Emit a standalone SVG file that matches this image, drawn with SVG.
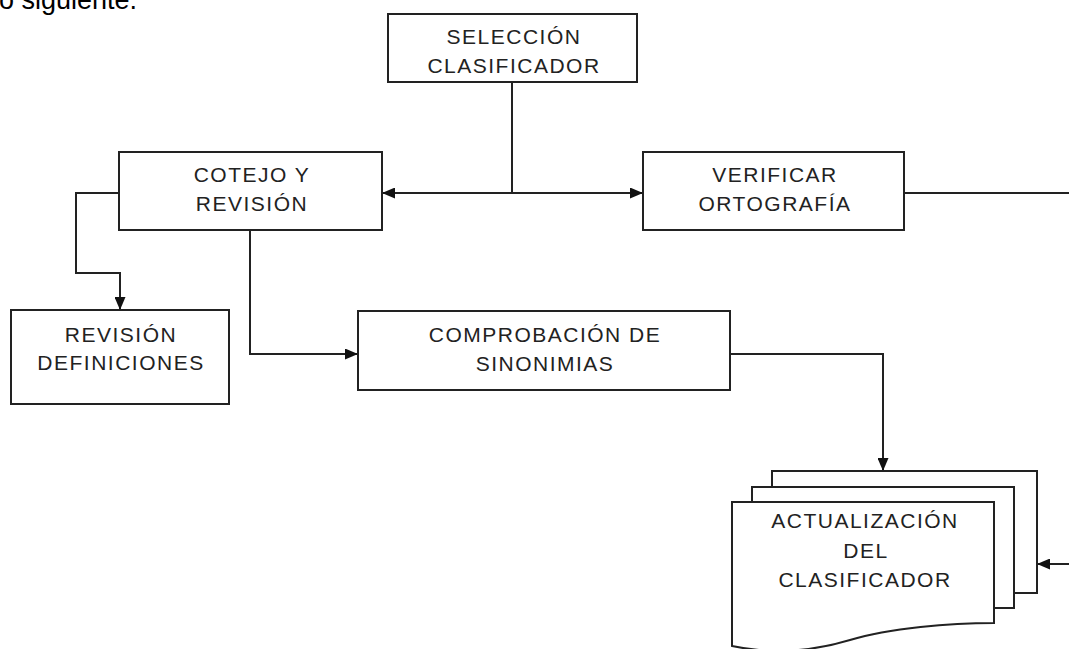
<svg xmlns="http://www.w3.org/2000/svg" width="1069" height="649" viewBox="0 0 1069 649">
<defs>
<style>
.box{fill:#fff;stroke:#222;stroke-width:2}
.ln{fill:none;stroke:#222;stroke-width:2}
.t{font-family:"Liberation Sans",Arial,sans-serif;font-size:21px;fill:#222;text-anchor:middle;letter-spacing:1.5px}
.intro{font-family:"Liberation Sans",Arial,sans-serif;font-size:27px;fill:#000}
</style>
<marker id="ah" viewBox="0 0 13 11" refX="13" refY="5.5" markerWidth="13" markerHeight="11" markerUnits="userSpaceOnUse" orient="auto">
<path d="M0,0 L13,5.5 L0,11 Z" fill="#111"/>
</marker>
</defs>
<rect width="1069" height="649" fill="#fff"/>
<text class="intro" x="-1" y="9">o siguiente.</text>
<g id="connectors">
<path class="ln" d="M512,82 V193"/>
<path class="ln" d="M512,193 H382" marker-end="url(#ah)"/>
<path class="ln" d="M512,193 H643" marker-end="url(#ah)"/>
<path class="ln" d="M119,193 H76 V273 H120 V310" marker-end="url(#ah)"/>
<path class="ln" d="M250,230 V354 H358" marker-end="url(#ah)"/>
<path class="ln" d="M730,354 H883 V471" marker-end="url(#ah)"/>
<path class="ln" d="M904,193 H1070"/>
<path class="ln" d="M1070,564 H1037" marker-end="url(#ah)"/>
</g>
<g id="seleccion">
<rect class="box" x="388" y="14" width="249" height="68"/>
<text class="t" x="514" y="44">SELECCIÓN</text>
<text class="t" x="514" y="73">CLASIFICADOR</text>
</g>
<g id="cotejo">
<rect class="box" x="119" y="152" width="263" height="78"/>
<text class="t" x="252" y="182">COTEJO Y</text>
<text class="t" x="252" y="211">REVISIÓN</text>
</g>
<g id="verificar">
<rect class="box" x="643" y="152" width="261" height="78"/>
<text class="t" x="775" y="182">VERIFICAR</text>
<text class="t" x="775" y="211">ORTOGRAFÍA</text>
</g>
<g id="revision">
<rect class="box" x="11" y="310" width="218" height="94"/>
<text class="t" x="121" y="342">REVISIÓN</text>
<text class="t" x="121" y="370">DEFINICIONES</text>
</g>
<g id="comprobacion">
<rect class="box" x="358" y="311" width="372" height="79"/>
<text class="t" x="545" y="342">COMPROBACIÓN DE</text>
<text class="t" x="545" y="371">SINONIMIAS</text>
</g>
<g id="actualizacion">
<path class="box" d="M772,487 V471 H1037 V593 H1014"/>
<path class="box" d="M752,502 V487 H1014 V608 H994"/>
<path class="box" d="M732,502 H994 V623 C950,623 890,628 850,640 C810,652 770,654 732,646 Z"/>
<text class="t" x="865" y="528">ACTUALIZACIÓN</text>
<text class="t" x="866" y="558">DEL</text>
<text class="t" x="865" y="587">CLASIFICADOR</text>
</g>
</svg>
